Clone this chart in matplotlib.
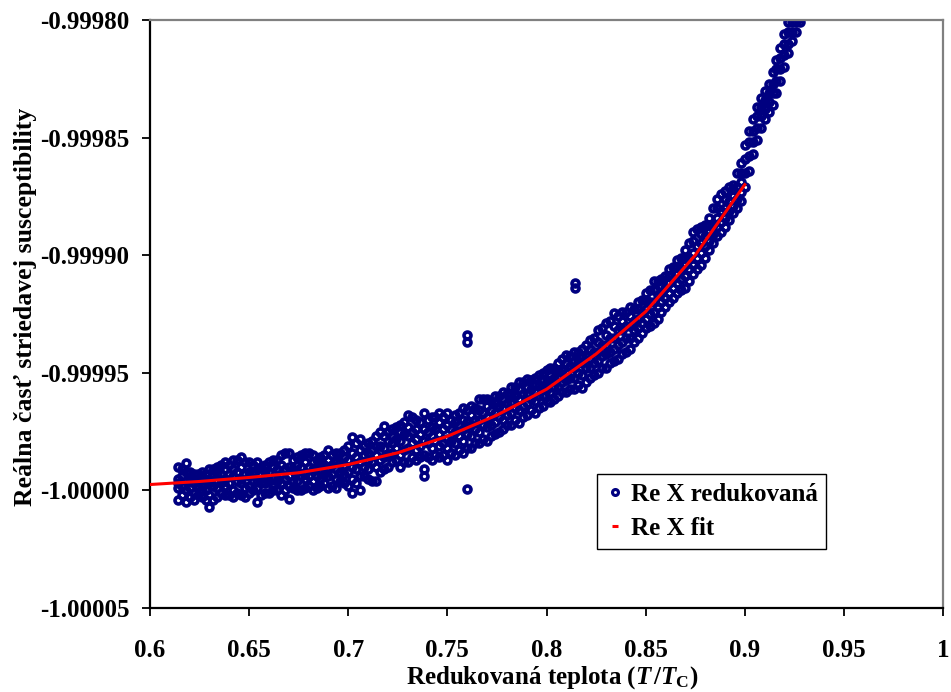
import matplotlib
matplotlib.use('Agg')
import matplotlib.pyplot as plt
from matplotlib.lines import Line2D
from matplotlib.ticker import FixedLocator, FuncFormatter

plt.rcParams['font.family'] = ['Liberation Serif', 'DejaVu Serif']
plt.rcParams['font.weight'] = 'bold'
plt.rcParams['axes.unicode_minus'] = False
plt.rcParams['mathtext.fontset'] = 'custom'
plt.rcParams['mathtext.rm'] = 'Liberation Serif:bold'
plt.rcParams['mathtext.it'] = 'Liberation Serif:bold:italic'
plt.rcParams['mathtext.bf'] = 'Liberation Serif:bold'

# ---------------- data ----------------
# reduced temperature of each measurement column (first pass)
temp_columns = [
    0.614, 0.618, 0.622, 0.626, 0.630, 0.634, 0.638, 0.642, 0.646, 0.650,
    0.654, 0.658, 0.662, 0.666, 0.670, 0.674, 0.678, 0.682, 0.686, 0.690,
    0.694, 0.698, 0.702, 0.706, 0.710, 0.714, 0.718, 0.722, 0.726, 0.730,
    0.734, 0.738, 0.742, 0.746, 0.750, 0.754, 0.758, 0.762, 0.766, 0.770,
    0.774, 0.778, 0.782, 0.786, 0.790, 0.794, 0.798, 0.802, 0.806, 0.810,
    0.814, 0.818, 0.822, 0.826, 0.830, 0.834, 0.838, 0.842, 0.846, 0.850,
    0.854, 0.858, 0.862, 0.866, 0.870, 0.874, 0.878, 0.882, 0.886, 0.890,
    0.894, 0.898, 0.900, 0.902, 0.904, 0.906, 0.908, 0.910, 0.912, 0.914,
    0.916, 0.918, 0.920, 0.922, 0.924, 0.926, 0.928,
]
# Re(chi) + 1, in units of 1e-5, for the points of each column
re_chi_dev_columns = [
    [-0.4, 0.1, 0.5, 0.3, 1.0], [-0.5, 0.0, 0.4, 0.8, 1.15], [-0.4, -0.1, 0.3, 0.5, 0.7],
    [-0.3, 0.2, 0.0, 0.6, 0.8], [-0.7, -0.2, 0.3, 0.5, 0.9], [-0.3, 0.1, 0.4, 0.7, 1.0],
    [-0.2, 0.2, 0.5, 0.9, 1.2], [-0.3, 0.0, 0.6, 0.9, 1.3], [-0.2, 0.3, 0.5, 1.0, 1.4],
    [-0.1, 0.2, 0.6, 0.8, 1.2], [-0.5, 0.1, 0.4, 0.9, 1.2], [-0.1, 0.3, 0.6, 0.8, 1.1],
    [0.0, 0.2, 0.5, 1.0, 1.3], [-0.2, 0.3, 0.7, 1.1, 1.5], [-0.35, 0.2, 0.6, 1.0, 1.6],
    [0.0, 0.4, 0.8, 1.1, 1.4], [0.1, 0.5, 0.7, 1.2, 1.6], [0.0, 0.4, 0.9, 1.2, 1.5],
    [0.2, 0.5, 0.8, 1.1, 1.4], [0.1, 0.6, 1.0, 1.3, 1.7], [0.1, 0.5, 0.9, 1.2, 1.6],
    [0.3, 0.7, 1.1, 1.4, 1.7], [-0.1, 0.5, 1.0, 1.6, 2.25], [0.0, 0.6, 1.2, 1.7, 2.2],
    [0.5, 0.9, 1.3, 1.6, 2.0], [0.4, 1.0, 1.5, 1.9, 2.3], [0.9, 1.4, 1.8, 2.3, 2.75],
    [1.2, 1.6, 2.0, 2.3, 2.6], [1.0, 1.5, 2.1, 2.5, 2.8], [1.2, 1.8, 2.3, 2.7, 3.2],
    [1.3, 1.7, 2.2, 2.6, 3.0], [0.6, 0.9, 1.5, 2.1, 2.6, 3.3], [1.3, 1.8, 2.3, 2.7, 3.1],
    [1.4, 1.9, 2.4, 2.9, 3.3], [1.3, 1.8, 2.2, 2.8, 3.3], [1.5, 2.0, 2.5, 2.9, 3.2],
    [1.6, 2.1, 2.6, 3.0, 3.5], [1.8, 2.3, 2.8, 3.2, 3.6], [2.0, 2.5, 3.0, 3.4, 3.9],
    [2.1, 2.7, 3.1, 3.6, 3.9], [2.4, 2.9, 3.3, 3.7, 4.0], [2.6, 3.0, 3.5, 3.9, 4.2],
    [2.8, 3.3, 3.7, 4.1, 4.4], [2.85, 3.4, 3.9, 4.3, 4.6], [3.2, 3.7, 4.1, 4.4, 4.75],
    [3.3, 3.8, 4.2, 4.5, 4.8], [3.6, 4.0, 4.4, 4.7, 5.0], [3.75, 4.2, 4.6, 4.9, 5.2],
    [4.0, 4.4, 4.8, 5.1, 5.4], [4.2, 4.7, 5.0, 5.4, 5.75], [4.3, 4.8, 5.2, 5.5, 5.9],
    [4.35, 4.9, 5.4, 5.7, 6.0], [4.8, 5.2, 5.6, 6.0, 6.4], [5.0, 5.5, 5.9, 6.3, 6.8],
    [5.2, 5.8, 6.2, 6.6, 7.1], [5.5, 6.0, 6.5, 7.0, 7.55], [5.8, 6.3, 6.8, 7.2, 7.6],
    [6.0, 6.5, 7.0, 7.4, 7.8], [6.5, 6.9, 7.3, 7.7, 8.0], [6.9, 7.3, 7.7, 8.1, 8.4],
    [7.1, 7.6, 8.0, 8.5, 8.9], [7.6, 8.0, 8.4, 8.7, 9.0], [8.0, 8.4, 8.8, 9.1, 9.4],
    [8.4, 8.8, 9.2, 9.5, 9.8], [8.6, 9.1, 9.6, 9.9, 10.2], [9.2, 9.6, 10.1, 10.6, 11.0],
    [9.6, 10.1, 10.5, 10.9, 11.2], [10.2, 10.6, 11.0, 11.3, 11.6], [10.8, 11.2, 11.6, 12.0, 12.4],
    [11.2, 11.6, 12.0, 12.4, 12.75], [11.8, 12.1, 12.5, 12.8, 13.0], [12.3, 12.7, 13.1, 13.5, 13.9],
    [12.9, 13.5, 14.1, 14.7], [13.6, 14.2, 14.8, 15.3], [14.3, 14.8, 15.3, 15.8],
    [14.9, 15.4, 15.9, 16.3], [15.4, 15.9, 16.3, 16.7], [15.8, 16.2, 16.6, 17.0],
    [16.1, 16.5, 16.9, 17.3], [16.4, 16.9, 17.3, 17.8], [16.9, 17.4, 17.9, 18.3],
    [17.4, 17.9, 18.4, 18.8], [18.0, 18.5, 19.0, 19.4], [18.6, 19.0, 19.5, 19.9],
    [19.1, 19.5, 19.9, 20.3], [19.5, 19.9, 20.2, 20.5], [19.9, 20.1, 20.3, 20.6],
]
# second pass of measurement columns (between the first ones)
temp_columns_b = [
    0.616, 0.620, 0.624, 0.628, 0.632, 0.636, 0.640, 0.644, 0.648, 0.652,
    0.656, 0.660, 0.664, 0.668, 0.672, 0.676, 0.680, 0.684, 0.688, 0.692,
    0.696, 0.700, 0.704, 0.708, 0.712, 0.716, 0.720, 0.724, 0.728, 0.732,
    0.736, 0.740, 0.744, 0.748, 0.752, 0.756, 0.760, 0.764, 0.768, 0.772,
    0.776, 0.780, 0.784, 0.788, 0.792, 0.796, 0.800, 0.804, 0.808, 0.812,
    0.816, 0.820, 0.824, 0.828, 0.832, 0.836, 0.840, 0.844, 0.848, 0.852,
    0.856, 0.860, 0.864, 0.868, 0.872, 0.876, 0.880, 0.884, 0.888, 0.892,
    0.896,
]
re_chi_dev_columns_b = [
    [-0.2, 0.2, 0.6, 0.9], [-0.3, 0.1, 0.5, 0.8], [-0.2, 0.2, 0.4, 0.7], [-0.4, 0.0, 0.4, 0.7],
    [-0.4, 0.2, 0.6, 0.9], [-0.1, 0.3, 0.7, 1.1], [-0.2, 0.3, 0.7, 1.1], [-0.1, 0.4, 0.8, 1.3],
    [-0.3, 0.1, 0.7, 1.2], [0.0, 0.4, 0.8, 1.1], [-0.2, 0.3, 0.7, 1.0], [-0.1, 0.4, 0.8, 1.2],
    [0.0, 0.4, 0.9, 1.3], [0.0, 0.5, 0.9, 1.6], [0.1, 0.4, 0.9, 1.3], [0.0, 0.6, 1.0, 1.5],
    [0.2, 0.6, 1.0, 1.6], [0.1, 0.6, 1.0, 1.3], [0.3, 0.7, 1.1, 1.5], [0.2, 0.7, 1.1, 1.5],
    [0.4, 0.8, 1.2, 1.6], [0.2, 0.8, 1.3, 1.9], [0.3, 0.9, 1.4, 2.0], [0.6, 1.0, 1.5, 1.9],
    [0.4, 1.2, 1.7, 2.1], [0.8, 1.3, 1.9, 2.5], [1.0, 1.5, 2.1, 2.5], [1.3, 1.8, 2.2, 2.7],
    [1.2, 1.7, 2.4, 2.9], [1.4, 2.0, 2.5, 3.1], [1.4, 1.9, 2.4, 2.9], [1.4, 2.0, 2.5, 3.0],
    [1.5, 2.1, 2.6, 3.1], [1.5, 2.0, 2.6, 3.1], [1.6, 2.1, 2.6, 3.0], [1.7, 2.3, 2.8, 3.3],
    [1.8, 2.4, 2.9, 3.4], [2.0, 2.6, 3.0, 3.5], [2.2, 2.8, 3.3, 3.9], [2.3, 2.8, 3.4, 3.8],
    [2.5, 3.1, 3.6, 4.0], [2.8, 3.2, 3.7, 4.1], [3.0, 3.5, 4.0, 4.4], [3.1, 3.6, 4.1, 4.6],
    [3.4, 3.9, 4.3, 4.7], [3.5, 4.0, 4.5, 4.9], [3.8, 4.3, 4.7, 5.1], [3.9, 4.4, 4.8, 5.2],
    [4.2, 4.6, 5.1, 5.6], [4.3, 4.8, 5.3, 5.7], [4.5, 5.0, 5.5, 5.9], [4.6, 5.2, 5.7, 6.2],
    [4.9, 5.4, 5.9, 6.5], [5.2, 5.7, 6.2, 6.9], [5.4, 5.9, 6.5, 7.2], [5.6, 6.2, 6.8, 7.4],
    [5.9, 6.5, 7.0, 7.6], [6.3, 6.8, 7.2, 7.7], [6.7, 7.1, 7.6, 8.1], [7.0, 7.5, 8.0, 8.5],
    [7.3, 7.8, 8.3, 8.9], [7.8, 8.2, 8.6, 9.1], [8.2, 8.6, 9.0, 9.5], [8.5, 9.0, 9.4, 9.9],
    [8.9, 9.4, 9.9, 10.5], [9.4, 9.9, 10.4, 11.1], [9.9, 10.4, 10.8, 11.3], [10.5, 10.9, 11.3, 12.0],
    [11.0, 11.4, 11.9, 12.6], [11.5, 11.9, 12.3, 12.9], [12.0, 12.4, 12.9, 13.5],
]
outlier_temp = [0.760, 0.760, 0.760, 0.8144, 0.8144]
outlier_dev = [6.3, 6.6, 0.04, 8.6, 8.8]

fit_temp = [0.600, 0.625, 0.650, 0.675, 0.700, 0.725, 0.750, 0.775, 0.800, 0.825, 0.850, 0.875, 0.900]
fit_dev = [0.25, 0.38, 0.55, 0.75, 1.1, 1.6, 2.3, 3.2, 4.3, 5.8, 7.6, 10.0, 13.0]

x_ticks = [0.6, 0.65, 0.7, 0.75, 0.8, 0.85, 0.9, 0.95, 1.0]
y_ticks = [-1.00005, -1.00000, -0.99995, -0.99990, -0.99985, -0.99980]

series_labels = ['Re X redukovaná', 'Re X fit']
x_label = 'Redukovaná teplota ($T\\,/T_{\\mathrm{C}}$)'
y_label = 'Reálna časť striedavej susceptibility'

# ---------------- build point lists ----------------
meas_T = []
meas_chi = []
for cols_t, cols_d in ((temp_columns, re_chi_dev_columns), (temp_columns_b, re_chi_dev_columns_b)):
    for t, devs in zip(cols_t, cols_d):
        for d in devs:
            meas_T.append(t)
            meas_chi.append(-1.0 + d * 1e-5)
for t, d in zip(outlier_temp, outlier_dev):
    meas_T.append(t)
    meas_chi.append(-1.0 + d * 1e-5)
fit_chi = [-1.0 + d * 1e-5 for d in fit_dev]

NAVY = '#000080'

fig = plt.figure(figsize=(9.51, 6.92), dpi=100)
ax = fig.add_axes([150 / 951, 84 / 692, 793 / 951, 588 / 692])

ax.plot(meas_T, meas_chi, ls='none', marker='o', ms=5.0, mfc='none', mec=NAVY, mew=2.6,
        zorder=2, clip_on=True)
ax.plot(fit_temp, fit_chi, color='#FF0000', lw=2.2, zorder=3)

ax.set_xlim(0.6, 1.0)
ax.set_ylim(-1.00005, -0.99980)
ax.xaxis.set_major_locator(FixedLocator(x_ticks))
ax.yaxis.set_major_locator(FixedLocator(y_ticks))
ax.xaxis.set_major_formatter(FuncFormatter(lambda v, p: ('%g' % round(v, 4))))
ax.yaxis.set_major_formatter(FuncFormatter(lambda v, p: ('%.5f' % v)))

ax.tick_params(axis='both', direction='out', length=6, width=1.3, colors='black',
               labelsize=18)
ax.tick_params(axis='x', pad=16)
ax.tick_params(axis='y', pad=9)
for lab in ax.get_xticklabels() + ax.get_yticklabels():
    lab.set_fontweight('bold')

for side in ['left', 'bottom']:
    ax.spines[side].set_color('black')
    ax.spines[side].set_linewidth(1.6)
for side in ['top', 'right']:
    ax.spines[side].set_color('#808080')
    ax.spines[side].set_linewidth(1.6)

ax.set_xlabel(x_label, fontsize=18, fontweight='bold', labelpad=2)
ax.set_ylabel(y_label, fontsize=18.5, fontweight='bold', labelpad=0)
ax.xaxis.set_label_coords(0.507, -0.095)
ax.yaxis.set_label_coords(-0.143, 0.512)

handles = [
    Line2D([], [], ls='none', marker='o', ms=4.3, mfc='none', mec=NAVY, mew=2.2),
    Line2D([], [], ls='none', marker='_', ms=5, mew=2.2, color='#FF0000'),
]
leg = ax.legend(handles, series_labels, loc='upper left',
                bbox_to_anchor=(0.5637, 0.2279), frameon=True, fancybox=False,
                edgecolor='black', framealpha=1, borderpad=0.35, handlelength=0.7,
                handletextpad=0.3, labelspacing=0.45, borderaxespad=0,
                prop={'family': 'Liberation Serif', 'weight': 'bold', 'size': 18})
leg.get_frame().set_linewidth(1.0)

fig.savefig('out.png', dpi=100)
